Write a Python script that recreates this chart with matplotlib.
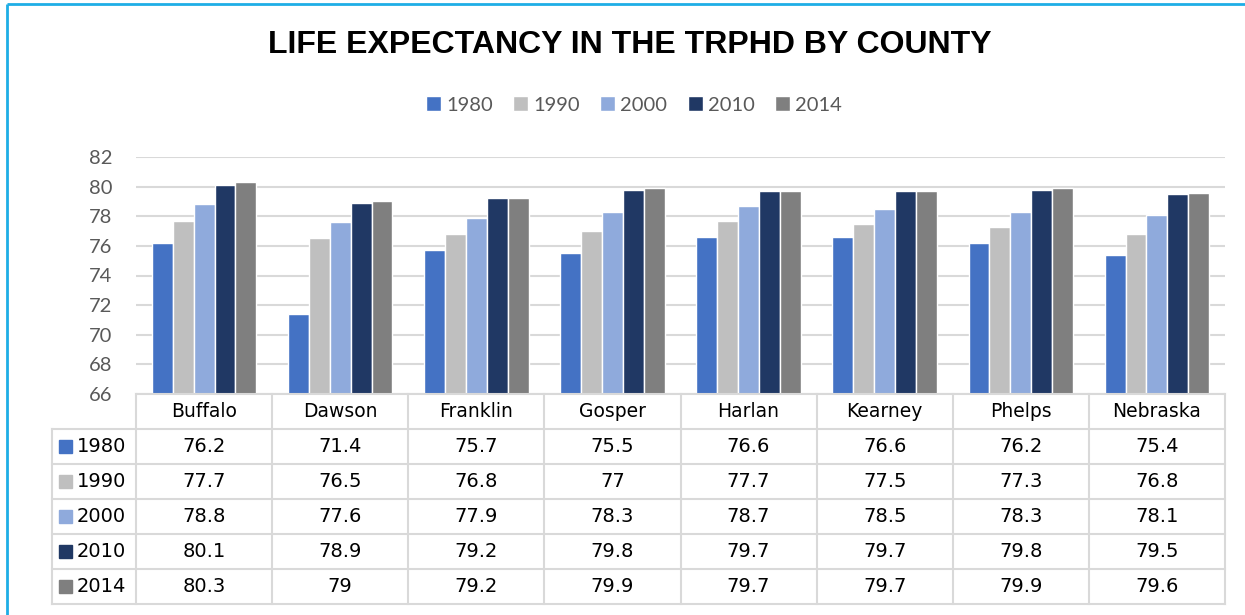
import numpy as np
import matplotlib
matplotlib.use("Agg")
import matplotlib.pyplot as plt
from matplotlib.patches import Rectangle

counties = ["Buffalo", "Dawson", "Franklin", "Gosper", "Harlan", "Kearney", "Phelps", "Nebraska"]
years = ["1980", "1990", "2000", "2010", "2014"]
le_1980 = [76.2, 71.4, 75.7, 75.5, 76.6, 76.6, 76.2, 75.4]
le_1990 = [77.7, 76.5, 76.8, 77, 77.7, 77.5, 77.3, 76.8]
le_2000 = [78.8, 77.6, 77.9, 78.3, 78.7, 78.5, 78.3, 78.1]
le_2010 = [80.1, 78.9, 79.2, 79.8, 79.7, 79.7, 79.8, 79.5]
le_2014 = [80.3, 79, 79.2, 79.9, 79.7, 79.7, 79.9, 79.6]
series = [le_1980, le_1990, le_2000, le_2010, le_2014]
colors = ["#4472C4", "#BFBFBF", "#8FAADC", "#203864", "#7F7F7F"]
yticks = [66, 68, 70, 72, 74, 76, 78, 80, 82]

W, H = 1245, 615
fig = plt.figure(figsize=(W / 100, H / 100), dpi=100)

# main plot area, in pixel units converted to figure fractions
left, right, top, bottom = 136, 1225, 157, 394
ax = fig.add_axes([left / W, 1 - bottom / H, (right - left) / W, (bottom - top) / H])

x = np.arange(len(counties))
bw = 0.1537
bars = []
for i, vals in enumerate(series):
    b = ax.bar(x + (i - 2) * bw, vals, width=bw, color=colors[i],
               edgecolor="white", linewidth=1.0, zorder=3, label=years[i])
    bars.append(b)

ax.set_xlim(-0.5, len(counties) - 0.5)
ax.set_ylim(66, 82)
ax.set_yticks(yticks)
ax.set_xticks([])
ax.grid(axis="y", color="#D9D9D9", linewidth=1.5, zorder=0)
for s in ax.spines.values():
    s.set_visible(False)
ax.tick_params(axis="y", length=0, pad=17, labelsize=14.5, labelcolor="#595959")
for t in ax.get_yticklabels():
    t.set_family("Lato")

# overlay in pixel coordinates for title, table and frame
ov = fig.add_axes([0, 0, 1, 1], zorder=5)
ov.set_xlim(0, W)
ov.set_ylim(H, 0)
ov.axis("off")
ov.patch.set_alpha(0)

ov.text(630, 45, "LIFE EXPECTANCY IN THE TRPHD BY COUNTY", ha="center", va="center",
        fontsize=23, fontweight="bold", family="Liberation Sans", color="black")

leg = fig.legend(handles=bars, labels=years, ncol=5, loc="center",
                 bbox_to_anchor=(634 / W, 1 - 105 / H), frameon=False,
                 handlelength=0.75, handleheight=0.75, handletextpad=0.25,
                 columnspacing=1.0, prop={"family": "Lato", "size": 14.5})
for t in leg.get_texts():
    t.set_color("#595959")

# frame line (left and top)
ov.plot([7, 7], [4, H], color="#1EAEE6", lw=2, solid_capstyle="butt")
ov.plot([7, W], [4, 4], color="#1EAEE6", lw=2, solid_capstyle="butt")

# data table
gc = "#D9D9D9"
col_w = (right - left) / len(counties)
rows = [394, 429, 464, 499, 534, 569, 604]
lab_left = 52
tfont = "DejaVu Sans"
ov.plot([left, right], [rows[0], rows[0]], color=gc, lw=1.5)
for r in rows[1:]:
    ov.plot([lab_left, right], [r, r], color=gc, lw=1.5)
ov.plot([lab_left, lab_left], [rows[1], rows[-1]], color=gc, lw=1.5)
for k in range(len(counties) + 1):
    xx = left + k * col_w
    ov.plot([xx, xx], [rows[0], rows[-1]], color=gc, lw=1.5)

for k, name in enumerate(counties):
    cx = left + (k + 0.5) * col_w
    ov.text(cx, (rows[0] + rows[1]) / 2, name, ha="center", va="center",
            fontsize=13.5, family=tfont, color="black")
    for j, vals in enumerate(series):
        cy = (rows[j + 1] + rows[j + 2]) / 2
        ov.text(cx, cy, f"{vals[k]:g}", ha="center", va="center",
                fontsize=14, family=tfont, color="black")

for j, yr in enumerate(years):
    cy = (rows[j + 1] + rows[j + 2]) / 2
    ov.add_patch(Rectangle((59, cy - 6.5), 13, 13, color=colors[j]))
    ov.text(77, cy, yr, ha="left", va="center", fontsize=14, family=tfont, color="black")

fig.savefig("out.png", dpi=100)
